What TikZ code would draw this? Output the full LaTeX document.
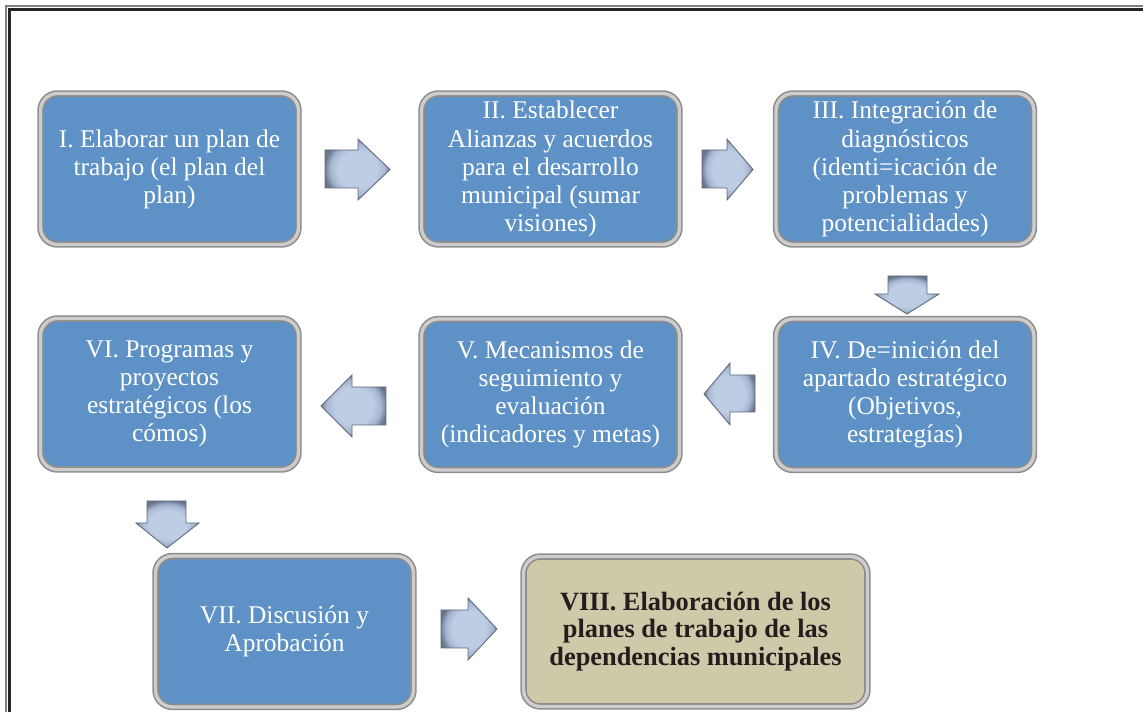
\documentclass[tikz,border=0pt]{standalone}
\usepackage{fontspec}
\setmainfont{Liberation Serif}
\definecolor{stageblue}{RGB}{94,146,198}
\definecolor{stagetan}{RGB}{206,201,168}
\definecolor{rimgray}{RGB}{140,140,140}
\definecolor{rimlight}{RGB}{205,205,205}
\definecolor{arrowlight}{RGB}{188,205,228}
\definecolor{arrowmid}{RGB}{165,182,208}
\definecolor{arrowdark}{RGB}{105,118,140}
\definecolor{arrowedge}{RGB}{95,106,126}
\definecolor{darktext}{RGB}{34,30,30}
\pgfdeclareradialshading{arrowshade}{\pgfpoint{0bp}{0bp}}{%
  color(0bp)=(arrowlight); color(15bp)=(arrowlight); color(21bp)=(arrowmid);
  color(26bp)=(arrowdark); color(50bp)=(arrowdark)}
\tikzset{
  stage/.style={rounded corners=0.34cm, draw=rimgray, double=rimlight,
    line width=0.9pt, double distance=1.9pt, fill=stageblue,
    text=white, align=center, inner sep=2pt,
    font=\fontsize{14.5}{16}\selectfont},
  stagewide/.style={stage, minimum width=5.16cm, minimum height=3.02cm},
  finalstage/.style={stage, fill=stagetan, text=darktext,
    font=\fontsize{15}{15.8}\selectfont\bfseries,
    minimum width=6.88cm, minimum height=3.0cm},
  blockarrow/.style={shading=arrowshade,
    draw=arrowedge, line width=0.5pt, line join=miter},
  frameout/.style={draw=gray, line width=0.6pt},
  framein/.style={draw=black!85, line width=1.4pt}
}
\begin{document}
\begin{tikzpicture}[x=0.02cm, y=-0.02cm]
\useasboundingbox (0,0) rectangle (1143,712);
% page frame
\draw[frameout] (6,712) -- (6,6) -- (1143,6);
\draw[framein] (9.5,712) -- (9.5,9.5) -- (1143,9.5);

% stages
\node[stagewide] (s1) at (169.5,169) {I. Elaborar un plan de\\trabajo (el plan del\\plan)};
\node[stagewide] (s2) at (550.5,169) {II. Establecer\\Alianzas y acuerdos\\para el desarrollo\\municipal (sumar\\visiones)};
\node[stagewide] (s3) at (905,169) {III. Integración de\\diagnósticos\\(identi=icación de\\problemas y\\potencialidades)};
\node[stagewide] (s4) at (905,394.5) {IV. De=inición del\\apartado estratégico\\(Objetivos,\\estrategías)};
\node[stagewide] (s5) at (550.5,394.5) {V. Mecanismos de\\seguimiento y\\evaluación\\(indicadores y metas)};
\node[stagewide] (s6) at (169.5,394) {VI. Programas y\\proyectos\\estratégicos (los\\cómos)};
\node[stagewide] (s7) at (284.5,631.5) {VII. Discusión y\\Aprobación};
\node[finalstage] (s8) at (695.5,631.5) {VIII. Elaboración de los\\planes de trabajo de las\\dependencias municipales};

% block arrows between stages
\shade[blockarrow] (325,150) -- (358,150) -- (358,139) -- (390,169.5) -- (358,200) -- (358,188) -- (325,188) -- cycle;
\shade[blockarrow] (702,150) -- (727,150) -- (727,139) -- (753,169.5) -- (727,200) -- (727,188) -- (702,188) -- cycle;
\shade[blockarrow] (888,276) -- (927,276) -- (927,294) -- (939,294) -- (907,314) -- (875,294) -- (888,294) -- cycle;
\shade[blockarrow] (755,375) -- (730,375) -- (730,363) -- (704,394) -- (730,425) -- (730,412) -- (755,412) -- cycle;
\shade[blockarrow] (386,387) -- (352,387) -- (352,375) -- (321,406) -- (352,437) -- (352,425) -- (386,425) -- cycle;
\shade[blockarrow] (147,501) -- (186,501) -- (186,523) -- (199,523) -- (167,548) -- (136,523) -- (147,523) -- cycle;
\shade[blockarrow] (441,610) -- (468,610) -- (468,598) -- (497,629) -- (468,660) -- (468,648) -- (441,648) -- cycle;
\end{tikzpicture}
\end{document}
